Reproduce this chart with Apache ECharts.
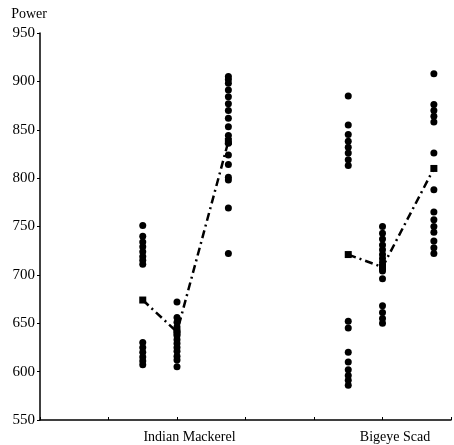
<!DOCTYPE html>
<html>
<head>
<meta charset="utf-8">
<script src="https://cdn.jsdelivr.net/npm/echarts@6/dist/echarts.min.js"></script>
<style>html,body{margin:0;padding:0;background:#fff}#c{width:454px;height:445px}</style>
</head>
<body>
<div id="c"></div>
<script>
const groupLabels = ['Indian Mackerel', 'Bigeye Scad'];
const groupLabelAt = [2, 5];
const columnX = [1.5, 2, 2.75, 4.5, 5, 5.75];
const mackerelCol1 = [751, 740, 734, 729, 724, 719, 715, 711, 630, 625, 620, 615, 611, 607];
const mackerelCol2 = [672, 656, 651, 646, 641, 637, 633, 629, 625, 621, 616, 612, 605];
const mackerelCol3 = [905, 902, 898, 891, 884, 877, 870, 862, 853, 844, 836, 824, 814, 801, 798, 769, 722];
const scadCol1 = [885, 855, 845, 838, 832, 826, 819, 813, 652, 645, 620, 610, 602, 596, 591, 586];
const scadCol2 = [750, 743, 737, 731, 726, 721, 717, 713, 709, 704, 696, 668, 661, 655, 650];
const scadCol3 = [908, 876, 870, 864, 858, 826, 788, 765, 757, 750, 744, 735, 728, 722];
const columnMeans = [674, 641, 838, 721, 708, 810];
const yTicks = [550, 600, 650, 700, 750, 800, 850, 900, 950];

const columns = [mackerelCol1, mackerelCol2, mackerelCol3, scadCol1, scadCol2, scadCol3];
const pts = [];
columns.forEach((col, i) => col.forEach(v => pts.push([columnX[i], v])));
const meanLine1 = [0,1,2].map(i => [columnX[i], columnMeans[i]]);
const meanLine2 = [3,4,5].map(i => [columnX[i], columnMeans[i]]);

const font = '"Liberation Serif", "DejaVu Serif", serif';
const chart = echarts.init(document.getElementById('c'), null, {renderer: 'canvas'});
chart.setOption({
  animation: false,
  backgroundColor: '#fff',
  grid: {left: 40, right: 0, top: 33, bottom: 25, containLabel: false},
  xAxis: {
    type: 'value', min: 0, max: 6, interval: 1,
    axisLine: {lineStyle: {color: '#000', width: 1.5}},
    axisTick: {show: true, inside: true, length: 3, lineStyle: {color: '#000'}},
    splitLine: {show: false},
    axisLabel: {
      color: '#000', fontFamily: font, fontSize: 14, margin: 10,
      padding: [0, 0, 0, 25],
      formatter: v => { const k = groupLabelAt.indexOf(v); return k >= 0 ? groupLabels[k] : ''; }
    }
  },
  yAxis: {
    type: 'value', min: yTicks[0], max: yTicks[yTicks.length - 1], interval: 50,
    name: 'Power', nameLocation: 'end', nameGap: 12,
    nameTextStyle: {color: '#000', fontFamily: font, fontSize: 14, align: 'right', padding: [0, -7, 0, 0]},
    axisLine: {show: true, lineStyle: {color: '#000', width: 1.5}},
    axisTick: {show: true, length: 3, lineStyle: {color: '#000'}},
    splitLine: {show: false},
    axisLabel: {color: '#000', fontFamily: font, fontSize: 15, margin: 5}
  },
  series: [
    {
      type: 'scatter', data: pts, symbol: 'circle', symbolSize: 7,
      itemStyle: {color: '#000', opacity: 1}
    },
    {
      type: 'line', data: meanLine1, symbol: 'rect', symbolSize: 7,
      itemStyle: {color: '#000'},
      lineStyle: {color: '#000', width: 2.5, type: [8, 4, 2, 4]}
    },
    {
      type: 'line', data: meanLine2, symbol: 'rect', symbolSize: 7,
      itemStyle: {color: '#000'},
      lineStyle: {color: '#000', width: 2.5, type: [8, 4, 2, 4]}
    }
  ]
});
</script>
</body>
</html>
